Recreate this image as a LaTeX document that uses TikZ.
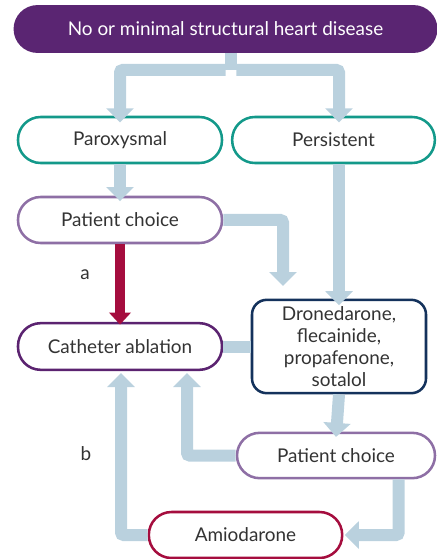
\documentclass[tikz,border=0pt]{standalone}
\usepackage{fontspec}
\setmainfont{Lato}
\usetikzlibrary{arrows.meta}
\definecolor{topPurple}{HTML}{5A2572}
\definecolor{tealLine}{HTML}{13998A}
\definecolor{lilacLine}{HTML}{8E6FA5}
\definecolor{plumLine}{HTML}{5B2370}
\definecolor{navyLine}{HTML}{14325C}
\definecolor{crimsonLine}{HTML}{A50D3E}
\definecolor{flowBlue}{HTML}{BAD1DE}
\definecolor{txtGrey}{HTML}{333333}
\tikzset{every picture/.style={line width=0.75pt}}
\tikzset{
  pill/.style={draw, line width=1.9pt, fill=white, rounded corners=17pt, minimum width=153pt, minimum height=34.5pt, inner sep=0pt, text=txtGrey, font=\fontsize{14.2}{16.5}\selectfont},
  flow/.style={draw=flowBlue, line width=9pt, rounded corners=2pt, -{Triangle[width=20pt,length=10.5pt]}},
  band/.style={draw=flowBlue, line width=9pt},
  redflow/.style={draw=crimsonLine, line width=8pt, -{Triangle[width=16pt,length=9pt]}}
}
\begin{document}
\begin{tikzpicture}[x=0.75pt,y=0.75pt,yscale=-1,xscale=1]
\useasboundingbox (0,0) rectangle (436,559);

%Flowchart: Terminator [id:top]
\node (top) at (225.5,29) [pill, draw=topPurple, fill=topPurple, text=white, minimum width=316pt, minimum height=34pt] {No or minimal structural heart disease};
%Flowchart: Terminator [id:parox]
\node (parox) at (120,140) [pill, draw=tealLine] {Paroxysmal};
\node (persist) at (333.5,140) [pill, draw=tealLine, minimum width=152pt] {Persistent};
%Flowchart: Terminator [id:choice]
\node (choiceA) at (120,220) [pill, draw=lilacLine] {Patient choice};
\node (cath) at (120,346.5) [pill, draw=plumLine, minimum height=35pt] {Catheter ablation};
%Flowchart: Alternative Process [id:drug]
\node (drug) at (339,346.5) [pill, draw=navyLine, rounded corners=11pt, minimum width=130.5pt, minimum height=70pt, align=center] {Dronedarone,\\flecainide,\\propafenone,\\sotalol};
\node (choiceB) at (336,455.5) [pill, draw=lilacLine, minimum width=148.5pt, minimum height=34pt] {Patient choice};
\node (amio) at (245.5,535) [pill, draw=crimsonLine, minimum width=145pt] {Amiodarone};

%Straight Lines
\coordinate (split) at (231,70);
\coordinate (kA) at (283,286);
\coordinate (kB) at (187,373);
\coordinate (kC) at (121,373);
\draw [band] (top.south -| split) -- (split);
\draw [flow] ([xshift=-4pt]split) -| ([yshift=5pt]parox.north);
\draw [flow] ([xshift=4pt]split) -| ([yshift=5pt]drug.north |- persist.north);
\draw [flow] (parox.south) -- ([yshift=4pt]choiceA.north);
\draw [flow] (persist.south -| drug.north) -- ([yshift=5pt]drug.north);
\draw [flow] (choiceA.east) -| (kA);
\draw [redflow] (choiceA.south) -- ([yshift=2pt]cath.north);
\draw [band] (cath.east) -- (drug.west);
\draw [flow] (drug.south) -- ([yshift=4pt]choiceB.north);
\draw [flow] (choiceB.west) -| (kB);
\draw [flow] ([xshift=47pt]choiceB.south) |- ([xshift=1pt]amio.east);
\draw [flow] (amio.west) -| (kC);

% Text Node
\node (labA) at (85,275) [text=txtGrey, font=\fontsize{14.2}{16.5}\selectfont] {a};
\node (labB) at (86,454) [text=txtGrey, font=\fontsize{14.2}{16.5}\selectfont] {b};

\end{tikzpicture}
\end{document}
